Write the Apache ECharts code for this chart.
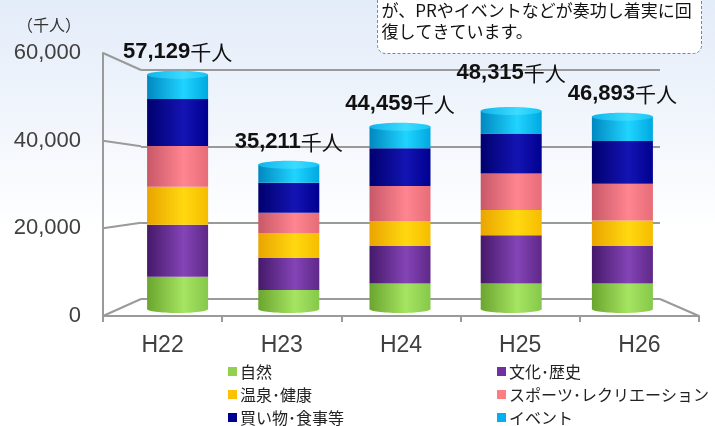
<!DOCTYPE html>
<html>
<head>
<meta charset="utf-8">
<script src="https://cdn.jsdelivr.net/npm/echarts@6/dist/echarts.min.js"></script>
<style>
  html, body { margin: 0; padding: 0; }
  #chart { width: 715px; height: 426px; }
</style>
</head>
<body>
<div id="chart"></div>
<script>
// 観光目的別 入込客数 (千人)
const categories = ['H22', 'H23', 'H24', 'H25', 'H26'];
const shizen  = [7850, 4630, 6240, 6240, 6240];       // 自然
const bunka   = [12720, 7780, 9120, 11760, 9120];     // 文化･歴史
const onsen   = [9270, 6000, 6080, 6170, 6240];       // 温泉･健康
const sports  = [9930, 5040, 8560, 8880, 8960];       // スポーツ･レクリエーション
const kaimono = [11430, 7350, 9200, 9750, 10410];     // 買い物･食事等
const event   = [5929, 4411, 5259, 5515, 5923];       // イベント
const totals  = [57129, 35211, 44459, 48315, 46893];
const yMax = 60000;
const yStep = 20000;

const W = 715;
const front = { left: 103, right: 16, top: 53, bottom: 110 };
const back  = { left: 141, right: 55, top: 70, bottom: 127 };
const bars  = { left: 122, right: 37, top: 63, bottom: 117 };
const barW = 61;

const axisGrey = '#9a9a9a';
const labelFont = "'Liberation Sans', 'Noto Sans CJK JP', sans-serif";
const jpFont = "'Noto Sans CJK JP', sans-serif";

function cyl(dark, light, mid) {
    return new echarts.graphic.LinearGradient(0, 0, 1, 0, [
        { offset: 0, color: dark },
        { offset: 0.6, color: light },
        { offset: 1, color: mid }
    ]);
}

const seriesDefs = [
    { name: '自然', data: shizen, flat: '#92d050', color: cyl('#6aa52e', '#a6e462', '#86c84a') },
    { name: '文化･歴史', data: bunka, flat: '#7030a0', color: cyl('#45196a', '#8444b6', '#5e2888') },
    { name: '温泉･健康', data: onsen, flat: '#ffc000', color: cyl('#eaa400', '#ffd810', '#f6bc00') },
    { name: 'スポーツ･レクリエーション', data: sports, flat: '#ff7c80', color: cyl('#c85868', '#ff8590', '#e66c78') },
    { name: '買い物･食事等', data: kaimono, flat: '#000090', color: cyl('#00006e', '#1414b4', '#000090') },
    { name: 'イベント', data: event, flat: '#00b0f0', color: cyl('#0088c0', '#20d4ff', '#00a8e0') }
];

const series = seriesDefs.map((s, i) => ({
    name: s.name,
    type: 'bar',
    stack: 'total',
    xAxisIndex: 2,
    yAxisIndex: 2,
    barWidth: barW,
    z: 5,
    data: s.data,
    itemStyle: { color: s.color },
    label: i === seriesDefs.length - 1 ? {
        show: true,
        position: 'top',
        distance: 12,
        formatter: p => '{b|' + totals[p.dataIndex].toLocaleString('en-US') + '}{n|千人}',
        rich: {
            b: { fontFamily: labelFont, fontWeight: 'bold', fontSize: 22, color: '#111' },
            n: { fontFamily: jpFont, fontSize: 21, color: '#111' }
        }
    } : { show: false },
    // H25 の総数ラベルは H26 と重ならないよう少し上に
    labelLayout: p => (p.dataIndex === 3 ? { dy: -15 } : {})
}));

// 円柱の上面と底面 (楕円)
series.push({
    type: 'custom',
    xAxisIndex: 2,
    yAxisIndex: 2,
    z: 6,
    silent: true,
    data: totals.map((t, i) => [i, t]),
    renderItem: (params, api) => {
        const top = api.coord([api.value(0), api.value(1)]);
        const base = api.coord([api.value(0), 0]);
        const rx = barW / 2;
        return {
            type: 'group',
            children: [
                {
                    type: 'ellipse',
                    shape: { cx: base[0], cy: base[1], rx: rx, ry: 4 },
                    style: { fill: cyl('#6aa52e', '#a6e462', '#86c84a') }
                },
                {
                    type: 'ellipse',
                    shape: { cx: top[0], cy: top[1], rx: rx, ry: 4 },
                    style: { fill: cyl('#10b4ea', '#3cdcff', '#18c4f4') }
                }
            ]
        };
    }
});

function legendData(names) {
    return names.map(n => {
        const s = seriesDefs.find(d => d.name === n);
        return { name: n, itemStyle: { color: s.flat } };
    });
}

const legendCommon = {
    orient: 'vertical',
    top: 362,
    height: 70,
    itemWidth: 9,
    itemHeight: 9,
    itemGap: 4,
    icon: 'rect',
    padding: 0,
    textStyle: { fontFamily: jpFont, fontSize: 16, lineHeight: 19, color: '#222', padding: [0, 0, 0, -2] }
};

const option = {
    animation: false,
    legend: [
        Object.assign({}, legendCommon, { left: 228, data: legendData(['自然', '温泉･健康', '買い物･食事等']) }),
        Object.assign({}, legendCommon, { left: 497, data: legendData(['文化･歴史', 'スポーツ･レクリエーション', 'イベント']) })
    ],
    grid: [
        Object.assign({}, front),
        Object.assign({}, back),
        Object.assign({}, bars)
    ],
    xAxis: [
        {
            gridIndex: 0, type: 'category', data: categories,
            axisLine: { lineStyle: { color: axisGrey, width: 2 } },
            axisTick: { show: true, length: 6, lineStyle: { color: axisGrey, width: 2 } },
            axisLabel: { fontFamily: labelFont, fontSize: 23, color: '#404040', margin: 18 }
        },
        { gridIndex: 1, type: 'category', data: categories, show: false },
        { gridIndex: 2, type: 'category', data: categories, show: false }
    ],
    yAxis: [
        {
            gridIndex: 0, type: 'value', min: 0, max: yMax, interval: yStep,
            axisLine: { show: true, lineStyle: { color: axisGrey, width: 2 } },
            axisTick: { show: false },
            splitLine: { show: false },
            axisLabel: {
                fontFamily: labelFont, fontSize: 22, color: '#404040', margin: 22,
                formatter: v => v.toLocaleString('en-US')
            }
        },
        {
            gridIndex: 1, type: 'value', min: 0, max: yMax, interval: yStep,
            axisLine: { show: false }, axisTick: { show: false }, axisLabel: { show: false },
            splitLine: { show: true, lineStyle: { color: axisGrey, width: 2 } }
        },
        {
            gridIndex: 2, type: 'value', min: 0, max: yMax, interval: yStep, show: false,
            splitLine: { show: false }
        }
    ],
    series: series
};

const chart = echarts.init(document.getElementById('chart'));
chart.setOption(option);

// background, side-wall / floor connectors, unit label and the note box
const graphics = [{
    type: 'rect', z: -10, silent: true,
    shape: { x: 0, y: 0, width: W, height: 426 },
    style: {
        fill: new echarts.graphic.LinearGradient(0, 0, 0, 1, [
            { offset: 0, color: '#e3ecf9' },
            { offset: 0.55, color: '#ffffff' },
            { offset: 1, color: '#ffffff' }
        ])
    }
}];
for (let v = 0; v <= yMax; v += yStep) {
    const fy = chart.convertToPixel({ yAxisIndex: 0 }, v);
    const by = chart.convertToPixel({ yAxisIndex: 1 }, v);
    graphics.push({
        type: 'line', silent: true, z: 1,
        shape: { x1: front.left, y1: fy, x2: back.left, y2: by },
        style: { stroke: axisGrey, lineWidth: 2 }
    });
}
graphics.push({
    type: 'line', silent: true, z: 1,
    shape: {
        x1: W - back.right, y1: chart.convertToPixel({ yAxisIndex: 1 }, 0),
        x2: W - front.right, y2: chart.convertToPixel({ yAxisIndex: 0 }, 0)
    },
    style: { stroke: axisGrey, lineWidth: 2 }
});
graphics.push({
    type: 'text', left: 17, top: 17, silent: true,
    style: { text: '（千人）', fontFamily: jpFont, fontSize: 16, fill: '#333' }
});
graphics.push({
    type: 'group', left: 377, top: -12, z: 20,
    children: [
        {
            type: 'rect',
            shape: { x: 0, y: 0, width: 324, height: 65, r: 8 },
            style: { fill: '#ffffff', stroke: '#6b88b8', lineWidth: 1, lineDash: [3, 2] }
        },
        {
            type: 'text', x: 4, y: 12,
            style: {
                text: 'が、PRやイベントなどが奏功し着実に回\n復してきています。',
                fontFamily: jpFont, fontSize: 17, lineHeight: 21, fill: '#111'
            }
        }
    ]
});
chart.setOption({ graphic: graphics });
</script>
</body>
</html>
